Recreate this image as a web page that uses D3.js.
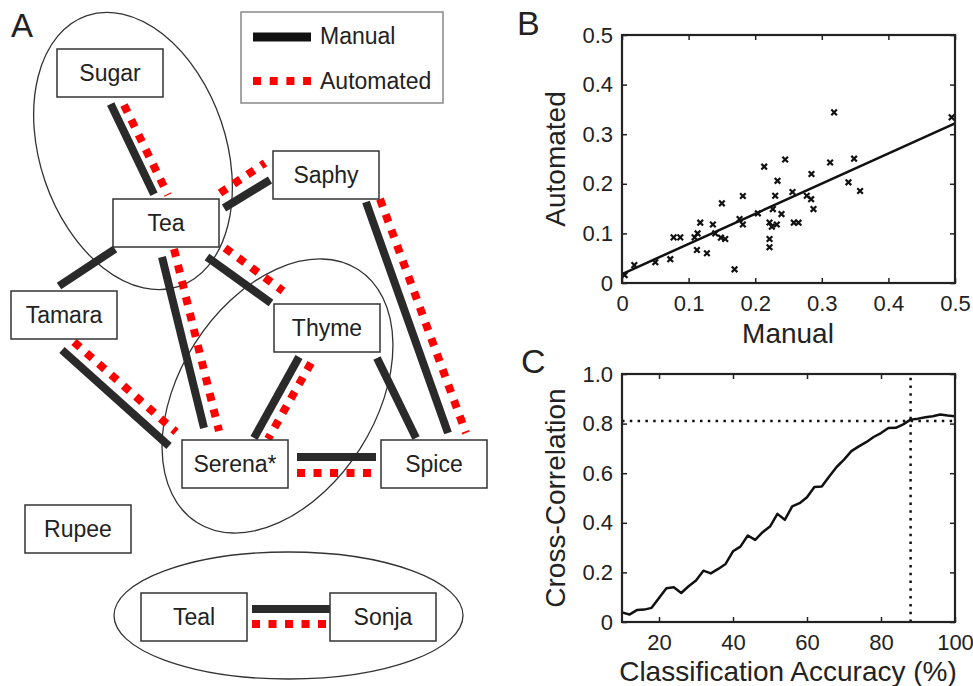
<!DOCTYPE html>
<html>
<head>
<meta charset="utf-8">
<script src="https://cdn.jsdelivr.net/npm/d3@7"></script>
<style>
  body { margin: 0; background: #fff; }
  text { font-family: "Liberation Sans", Arial, sans-serif; fill: #222; }
</style>
</head>
<body>
<script>
// ---- panel B data: manual vs automated
const manualVals = [0.004, 0.0185, 0.05, 0.0725, 0.0775, 0.0875, 0.109, 0.1135, 0.1125, 0.1175,
  0.1275, 0.1365, 0.14, 0.15, 0.1485, 0.155, 0.169, 0.1765, 0.1815, 0.1815,
  0.204, 0.2135, 0.2215, 0.2215, 0.2215, 0.225, 0.2265, 0.23, 0.2325, 0.2335,
  0.2395, 0.245, 0.256, 0.258, 0.265, 0.2775, 0.284, 0.2845, 0.2875, 0.3125,
  0.3185, 0.34, 0.3485, 0.3575, 0.495];
const automatedVals = [0.016, 0.036, 0.042, 0.048, 0.092, 0.092, 0.092, 0.100, 0.0665, 0.1216,
  0.060, 0.118, 0.100, 0.1606, 0.0914, 0.0887, 0.0276, 0.129, 0.1754, 0.118,
  0.1405, 0.2345, 0.122, 0.0887, 0.072, 0.1136, 0.149, 0.176, 0.118, 0.206,
  0.139, 0.249, 0.1835, 0.1216, 0.1216, 0.176, 0.169, 0.2198, 0.149, 0.243,
  0.344, 0.203, 0.2507, 0.1855, 0.334];
const fitIntercept = 0.018;
const fitSlope = 0.608;
const ticksB = [0, 0.1, 0.2, 0.3, 0.4, 0.5];

// ---- panel C data: cross-correlation vs classification accuracy
const accuracyPct = [10, 12, 14, 16, 18, 20, 22, 24, 26, 28, 30, 32, 34, 36, 38, 40, 42, 44, 46, 48,
  50, 52, 54, 56, 58, 60, 62, 64, 66, 68, 70, 72, 74, 76, 78, 80, 82, 84, 86, 88,
  90, 92, 94, 96, 98, 100];
const crossCorr = [0.039, 0.030, 0.048, 0.050, 0.057, 0.097, 0.136, 0.140, 0.117, 0.144,
  0.167, 0.207, 0.196, 0.214, 0.234, 0.285, 0.304, 0.349, 0.331, 0.362,
  0.385, 0.436, 0.412, 0.466, 0.479, 0.503, 0.544, 0.546, 0.587, 0.625,
  0.655, 0.689, 0.708, 0.725, 0.746, 0.762, 0.782, 0.783, 0.797, 0.816,
  0.820, 0.826, 0.830, 0.837, 0.833, 0.830];
const thresholdAcc = 88;
const thresholdCorr = 0.81;
const ticksCX = [20, 40, 60, 80, 100];
const ticksCY = [0, 0.2, 0.4, 0.6, 0.8, 1.0];

// ---- panel A data: network of animals
const nodeNames = ["Sugar", "Tea", "Saphy", "Tamara", "Thyme", "Serena*", "Spice", "Rupee", "Teal", "Sonja"];
const edgePairs = [
  ["Sugar", "Tea"], ["Tea", "Saphy"], ["Tea", "Tamara"], ["Tea", "Serena*"], ["Tea", "Thyme"],
  ["Saphy", "Spice"], ["Tamara", "Serena*"], ["Thyme", "Serena*"], ["Thyme", "Spice"],
  ["Serena*", "Spice"], ["Teal", "Sonja"]
];
const edgeManual = [true, true, true, true, true, true, true, true, true, true, true];
const edgeAutomated = [true, true, false, true, true, true, true, true, false, true, true];
const groups = [["Sugar", "Tea"], ["Thyme", "Serena*"], ["Teal", "Sonja"]];

// layout of the schematic (panel A pixels)
const nodeLayout = {
  "Sugar": [57, 49], "Tea": [113, 199], "Saphy": [273, 151], "Tamara": [11, 291],
  "Thyme": [274, 304], "Serena*": [182, 440], "Spice": [381, 440], "Rupee": [25, 505],
  "Teal": [141, 593], "Sonja": [330, 593]
};
const boxW = 106, boxH = 48;
const edgeLayout = [
  {m: [110.7, 104, 154, 194.3], a: [124, 105, 168, 195]},
  {m: [224, 208, 270, 180], a: [220, 193, 265, 163]},
  {m: [115, 249, 59, 286], a: null},
  {m: [162, 257, 204, 428], a: [174, 249, 219, 431]},
  {m: [207, 257, 271, 303], a: [225, 248, 283, 291]},
  {m: [366, 202, 448, 433], a: [380, 199, 466, 433]},
  {m: [62, 350, 169, 446], a: [74, 342, 176, 432]},
  {m: [299, 357, 254, 438], a: [311, 363, 268, 439]},
  {m: [377, 358, 416, 438], a: null},
  {m: [297, 457, 376, 457], a: [297, 473, 372, 473]},
  {m: [252, 609, 330, 609], a: [252, 624, 327, 624]}
];
const groupLayout = [
  {cx: 133, cy: 151, rx: 93, ry: 143, rot: -18.8},
  {cx: 277.5, cy: 396, rx: 98, ry: 150, rot: 32.5},
  {cx: 288.5, cy: 615.5, rx: 174.5, ry: 63.5, rot: 0}
];

const svgWidth = 973, svgHeight = 686;
const darkEdge = "#2a2a2a", redEdge = "#ff0000";
const fmtDec = d => d === 0 ? "0" : d.toFixed(1);

const svg = d3.select("body").append("svg")
  .attr("width", svgWidth)
  .attr("height", svgHeight);

draw_network();
draw_scatter();
draw_curve();

function draw_network() {
  const sx = d3.scaleIdentity(), sy = d3.scaleIdentity();
  const g = svg.append("g");

  g.append("text").attr("x", 11).attr("y", 37).style("font-size", "33px").text("A");

  // group ellipses
  g.selectAll("ellipse")
    .data(groupLayout)
    .join("ellipse")
    .attr("transform", d => `translate(${sx(d.cx)},${sy(d.cy)}) rotate(${d.rot})`)
    .attr("rx", d => d.rx)
    .attr("ry", d => d.ry)
    .attr("fill", "none")
    .attr("stroke", "#333")
    .attr("stroke-width", 1.3);

  // edges
  const edges = edgePairs.map((p, i) => ({pair: p, manual: edgeManual[i], auto: edgeAutomated[i], geo: edgeLayout[i]}));
  g.append("g").selectAll("line")
    .data(edges.filter(e => e.manual))
    .join("line")
    .attr("x1", e => sx(e.geo.m[0])).attr("y1", e => sy(e.geo.m[1]))
    .attr("x2", e => sx(e.geo.m[2])).attr("y2", e => sy(e.geo.m[3]))
    .attr("stroke", darkEdge)
    .attr("stroke-width", 8);
  g.append("g").selectAll("line")
    .data(edges.filter(e => e.auto))
    .join("line")
    .attr("x1", e => sx(e.geo.a[0])).attr("y1", e => sy(e.geo.a[1]))
    .attr("x2", e => sx(e.geo.a[2])).attr("y2", e => sy(e.geo.a[3]))
    .attr("stroke", redEdge)
    .attr("stroke-width", 8)
    .attr("stroke-dasharray", "8,8.5");

  // nodes
  const nodes = g.append("g").selectAll("g")
    .data(nodeNames)
    .join("g")
    .attr("transform", n => `translate(${sx(nodeLayout[n][0])},${sy(nodeLayout[n][1])})`);
  nodes.append("rect")
    .attr("width", boxW).attr("height", boxH)
    .attr("fill", "#fff")
    .attr("stroke", "#333")
    .attr("stroke-width", 1.5);
  nodes.append("text")
    .attr("x", boxW / 2).attr("y", boxH / 2 + 8)
    .attr("text-anchor", "middle")
    .style("font-size", "23px")
    .text(n => n);

  // legend
  const lg = g.append("g");
  lg.append("rect")
    .attr("x", 241).attr("y", 12).attr("width", 202).attr("height", 91)
    .attr("fill", "#fff").attr("stroke", "#888").attr("stroke-width", 1.5);
  lg.append("line").attr("x1", 253).attr("x2", 311).attr("y1", 37).attr("y2", 37)
    .attr("stroke", "#111").attr("stroke-width", 9);
  lg.append("line").attr("x1", 253).attr("x2", 311).attr("y1", 81).attr("y2", 81)
    .attr("stroke", redEdge).attr("stroke-width", 8).attr("stroke-dasharray", "8,8.7");
  lg.append("text").attr("x", 320).attr("y", 44).style("font-size", "23px").text("Manual");
  lg.append("text").attr("x", 320).attr("y", 89).style("font-size", "23px").text("Automated");
}

function frame(g, x, y, xTicks, yTicks, fmtX, fmtY) {
  const [x0, x1] = x.range(), [y0, y1] = y.range();
  g.append("g").attr("transform", `translate(0,${y0})`)
    .call(d3.axisBottom(x).tickValues(xTicks).tickFormat(fmtX).tickSizeInner(-5).tickSizeOuter(0).tickPadding(12));
  g.append("g").attr("transform", `translate(${x0},0)`)
    .call(d3.axisLeft(y).tickValues(yTicks).tickFormat(fmtY).tickSizeInner(-5).tickSizeOuter(0).tickPadding(9));
  g.append("g").attr("transform", `translate(0,${y1})`)
    .call(d3.axisTop(x).tickValues(xTicks).tickFormat("").tickSizeInner(-5).tickSizeOuter(0));
  g.append("g").attr("transform", `translate(${x1},0)`)
    .call(d3.axisRight(y).tickValues(yTicks).tickFormat("").tickSizeInner(-5).tickSizeOuter(0));
  g.selectAll(".domain").remove();
  g.selectAll(".tick line").attr("stroke", "#222").attr("stroke-width", 1.5);
  g.selectAll(".tick text").style("font-size", "22px").attr("fill", "#222")
    .style("font-family", '"Liberation Sans", Arial, sans-serif');
  g.append("rect")
    .attr("x", x0).attr("y", y1).attr("width", x1 - x0).attr("height", y0 - y1)
    .attr("fill", "none").attr("stroke", "#222").attr("stroke-width", 2.2);
}

function draw_scatter() {
  const x = d3.scaleLinear().domain([0, 0.5]).range([622, 955]);
  const y = d3.scaleLinear().domain([0, 0.5]).range([283, 35]);
  const g = svg.append("g");

  g.append("text").attr("x", 517).attr("y", 35).style("font-size", "34px").text("B");

  g.append("line")
    .attr("x1", x(0)).attr("y1", y(fitIntercept))
    .attr("x2", x(0.5)).attr("y2", y(fitIntercept + fitSlope * 0.5))
    .attr("stroke", "#111").attr("stroke-width", 2.5);

  const pts = manualVals.map((m, i) => [m, automatedVals[i]]);
  const s = 2.8;
  g.append("g").selectAll("path")
    .data(pts)
    .join("path")
    .attr("d", d => {
      const px = x(d[0]), py = y(d[1]);
      return `M${px - s},${py - s}L${px + s},${py + s}M${px - s},${py + s}L${px + s},${py - s}`;
    })
    .attr("stroke", "#111").attr("stroke-width", 2.2);

  frame(g, x, y, ticksB, ticksB, fmtDec, fmtDec);

  g.append("text").attr("x", 788).attr("y", 343).attr("text-anchor", "middle")
    .style("font-size", "28px").text("Manual");
  g.append("text").attr("transform", "translate(565,159) rotate(-90)").attr("text-anchor", "middle")
    .style("font-size", "28px").text("Automated");
}

function draw_curve() {
  const x = d3.scaleLinear().domain([10, 100]).range([622, 955]);
  const y = d3.scaleLinear().domain([0, 1]).range([622, 374]);
  const g = svg.append("g");

  g.append("text").attr("x", 521).attr("y", 373).style("font-size", "34px").text("C");

  const line = d3.line().x(d => x(d[0])).y(d => y(d[1]));
  g.append("path")
    .datum(accuracyPct.map((a, i) => [a, crossCorr[i]]))
    .attr("d", line)
    .attr("fill", "none").attr("stroke", "#111").attr("stroke-width", 2.5)
    .attr("stroke-linejoin", "round");

  g.append("line")
    .attr("x1", x(10)).attr("x2", x(100)).attr("y1", y(thresholdCorr)).attr("y2", y(thresholdCorr))
    .attr("stroke", "#111").attr("stroke-width", 2.5).attr("stroke-dasharray", "2.5,5.3");
  g.append("line")
    .attr("x1", x(thresholdAcc)).attr("x2", x(thresholdAcc)).attr("y1", y(0)).attr("y2", y(1))
    .attr("stroke", "#111").attr("stroke-width", 2.5).attr("stroke-dasharray", "2.5,5.3");

  frame(g, x, y, ticksCX, ticksCY, d => d, fmtDec);

  g.append("text").attr("x", 788).attr("y", 681).attr("text-anchor", "middle")
    .style("font-size", "28px").text("Classification Accuracy (%)");
  g.append("text").attr("transform", "translate(565,498) rotate(-90)").attr("text-anchor", "middle")
    .style("font-size", "28px").text("Cross-Correlation");
}
</script>
</body>
</html>
